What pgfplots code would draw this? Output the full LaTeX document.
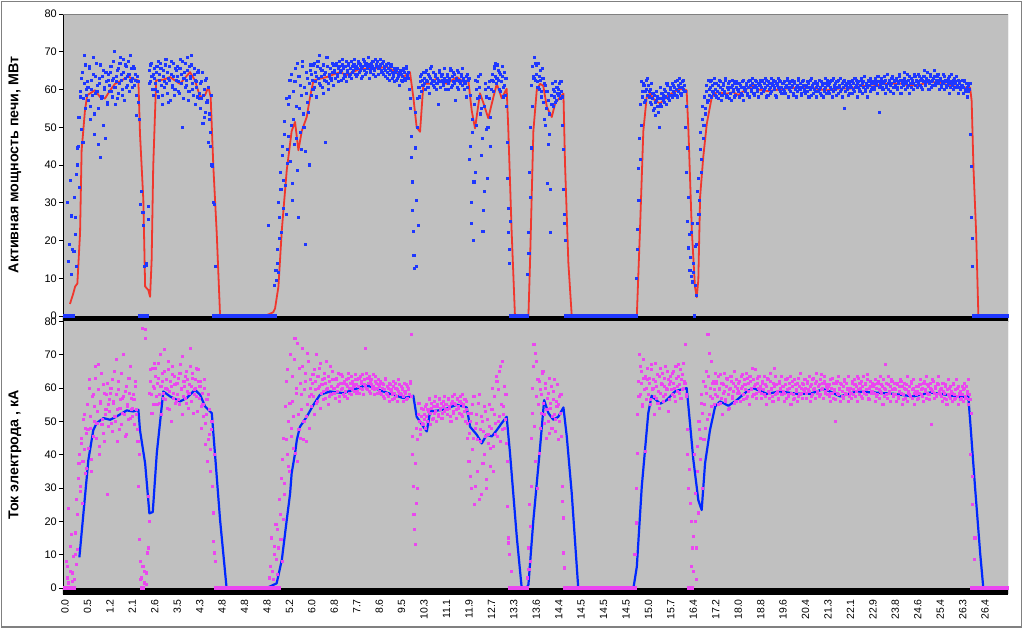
\documentclass[border=0pt]{standalone}
\usepackage{pgfplots}
\pgfplotsset{compat=1.18}
\usepackage{pgfplotstable}
\usepackage{fontspec}
\setmainfont{Liberation Sans}
\definecolor{plotbg}{RGB}{192,192,192}
\definecolor{scatblue}{RGB}{30,55,255}
\definecolor{linered}{RGB}{240,55,45}
\definecolor{scatmag}{RGB}{235,70,240}
\definecolor{lineblue}{RGB}{0,40,255}
\definecolor{framegray}{RGB}{128,128,128}

% top panel scatter, set A (samples 0,1,2,...; 20 samples per category label)
\pgfplotstableread[row sep=\\]{y\\
0\\0\\30\\0\\19\\36\\11\\0\\17\\26\\13\\40\\45\\34\\58\\63\\46\\69\\55\\60\\
62\\57\\66\\52\\60\\64\\48\\59\\67\\61\\55\\63\\42\\58\\65\\60\\47\\62\\56\\64\\
61\\66\\58\\63\\70\\56\\62\\65\\59\\67\\64\\60\\68\\57\\63\\66\\61\\64\\69\\62\\
63\\66\\61\\64\\53\\62\\52\\0\\33\\0\\24\\13\\0\\14\\29\\65\\62\\67\\60\\64\\
63\\60\\66\\58\\64\\67\\61\\56\\65\\62\\68\\59\\63\\66\\57\\64\\61\\67\\60\\65\\
66\\62\\59\\68\\64\\50\\63\\67\\61\\65\\57\\66\\63\\69\\60\\64\\56\\62\\58\\65\\
59\\55\\62\\51\\60\\54\\63\\57\\46\\52\\45\\40\\30\\0\\13\\0\\0\\0\\0\\0\\
0\\0\\0\\0\\0\\0\\0\\0\\0\\0\\0\\0\\0\\0\\0\\0\\0\\0\\0\\0\\
0\\0\\0\\0\\0\\0\\0\\0\\0\\0\\0\\0\\0\\0\\0\\0\\0\\0\\0\\0\\
0\\24\\0\\0\\0\\0\\0\\8\\12\\14\\30\\26\\38\\22\\45\\36\\48\\27\\44\\56\\
58\\41\\64\\35\\52\\62\\47\\67\\26\\55\\61\\44\\66\\50\\19\\59\\63\\54\\40\\65\\
64\\60\\67\\62\\58\\66\\63\\69\\61\\65\\59\\64\\46\\62\\66\\60\\64\\63\\67\\61\\
65\\63\\67\\64\\62\\66\\65\\68\\63\\64\\66\\62\\65\\67\\64\\63\\66\\65\\68\\64\\
66\\64\\67\\65\\63\\66\\68\\65\\64\\67\\66\\63\\65\\67\\66\\64\\65\\68\\66\\64\\
66\\68\\65\\67\\64\\66\\65\\63\\67\\64\\65\\66\\63\\64\\62\\65\\63\\64\\61\\65\\
64\\62\\65\\63\\66\\64\\63\\60\\55\\42\\28\\16\\54\\13\\50\\24\\58\\62\\64\\61\\
63\\60\\65\\62\\64\\59\\63\\66\\61\\62\\64\\60\\63\\56\\65\\62\\64\\61\\63\\60\\
62\\64\\60\\63\\65\\61\\62\\64\\57\\63\\65\\60\\62\\64\\61\\63\\60\\62\\58\\64\\
63\\45\\30\\52\\20\\56\\38\\60\\62\\58\\64\\55\\47\\28\\33\\60\\58\\50\\62\\45\\
60\\64\\62\\66\\67\\63\\65\\60\\64\\62\\66\\58\\61\\63\\46\\22\\14\\25\\0\\0\\
0\\0\\0\\0\\0\\0\\0\\0\\0\\0\\0\\0\\11\\22\\38\\50\\61\\66\\63\\67\\
64\\62\\67\\60\\65\\58\\63\\52\\61\\55\\35\\57\\48\\22\\56\\60\\58\\62\\57\\59\\
60\\59\\62\\58\\44\\27\\20\\0\\0\\0\\0\\0\\0\\0\\0\\0\\0\\0\\0\\0\\
0\\0\\0\\0\\0\\0\\0\\0\\0\\0\\0\\0\\0\\0\\0\\0\\0\\0\\0\\0\\
0\\0\\0\\0\\0\\0\\0\\0\\0\\0\\0\\0\\0\\0\\0\\0\\0\\0\\0\\0\\
0\\0\\0\\0\\0\\0\\0\\0\\0\\10\\23\\39\\47\\56\\62\\58\\61\\57\\60\\63\\
61\\58\\60\\56\\59\\55\\53\\57\\58\\54\\50\\56\\59\\57\\60\\58\\56\\61\\59\\57\\
60\\58\\61\\59\\62\\60\\58\\61\\63\\59\\62\\60\\61\\50\\38\\25\\18\\12\\22\\9\\
14\\0\\8\\19\\33\\27\\44\\38\\52\\47\\58\\55\\61\\57\\60\\62\\58\\61\\59\\63\\
60\\58\\61\\59\\62\\57\\60\\61\\59\\63\\58\\60\\62\\59\\57\\61\\60\\58\\62\\60\\
60\\58\\61\\59\\62\\57\\60\\61\\59\\62\\58\\61\\60\\63\\59\\61\\62\\60\\58\\61\\
61\\59\\62\\60\\63\\58\\61\\62\\60\\59\\63\\61\\60\\62\\58\\61\\63\\60\\62\\59\\
60\\62\\59\\61\\63\\58\\60\\62\\61\\59\\62\\60\\58\\61\\63\\60\\59\\62\\61\\60\\
59\\61\\62\\58\\60\\63\\61\\59\\60\\62\\58\\61\\60\\59\\62\\61\\58\\60\\63\\59\\
61\\59\\62\\60\\58\\63\\61\\60\\62\\59\\61\\63\\60\\58\\62\\55\\61\\60\\62\\59\\
61\\62\\59\\60\\63\\61\\58\\62\\60\\61\\63\\59\\62\\60\\61\\58\\62\\61\\63\\60\\
62\\60\\63\\61\\59\\62\\54\\61\\63\\60\\62\\59\\61\\64\\60\\62\\61\\63\\59\\62\\
61\\63\\60\\62\\64\\59\\62\\61\\63\\60\\62\\64\\61\\59\\63\\62\\60\\64\\61\\62\\
62\\64\\61\\63\\60\\62\\65\\61\\63\\62\\60\\64\\62\\61\\63\\65\\61\\62\\64\\60\\
63\\61\\62\\64\\60\\62\\61\\63\\59\\62\\64\\61\\60\\63\\62\\61\\59\\62\\60\\61\\
61\\59\\62\\60\\58\\61\\60\\48\\26\\13\\0\\0\\0\\0\\0\\0\\0\\0\\0\\0\\
0\\0\\0\\0\\0\\0\\0\\0\\0\\0\\0\\0\\0\\0\\0\\0\\0\\0\\0\\0\\
}\topscatterA

% top panel scatter, set B (samples 0.5,1.5,2.5,...)
\pgfplotstableread[row sep=\\]{y\\
0\\0\\0\\14.5\\0\\26.5\\17.5\\0\\31.5\\21.5\\37.5\\44.5\\52.5\\59.5\\49.5\\64.5\\57.5\\61.5\\66.5\\58.5\\
60.5\\65.5\\55.5\\62.5\\58.5\\68.5\\53.5\\63.5\\59.5\\45.5\\61.5\\66.5\\57.5\\63.5\\50.5\\60.5\\64.5\\56.5\\62.5\\59.5\\
64.5\\59.5\\62.5\\67.5\\60.5\\63.5\\57.5\\65.5\\61.5\\68.5\\62.5\\58.5\\64.5\\66.5\\60.5\\63.5\\67.5\\59.5\\62.5\\65.5\\
60.5\\65.5\\62.5\\58.5\\63.5\\56.5\\0\\29.5\\0\\27.5\\0\\0\\13.5\\0\\25.5\\61.5\\66.5\\63.5\\58.5\\65.5\\
61.5\\64.5\\59.5\\67.5\\62.5\\65.5\\58.5\\63.5\\60.5\\66.5\\61.5\\64.5\\56.5\\62.5\\67.5\\60.5\\63.5\\58.5\\65.5\\62.5\\
63.5\\59.5\\65.5\\61.5\\67.5\\57.5\\64.5\\60.5\\62.5\\68.5\\59.5\\63.5\\66.5\\61.5\\58.5\\65.5\\62.5\\60.5\\64.5\\57.5\\
61.5\\57.5\\64.5\\58.5\\52.5\\62.5\\56.5\\60.5\\53.5\\48.5\\58.5\\39.5\\0\\29.5\\0\\0\\0\\0\\0\\0\\
0\\0\\0\\0\\0\\0\\0\\0\\0\\0\\0\\0\\0\\0\\0\\0\\0\\0\\0\\0\\
0\\0\\0\\0\\0\\0\\0\\0\\0\\0\\0\\0\\0\\0\\0\\0\\0\\0\\0\\0\\
0\\0\\0\\0\\0\\0\\0\\0\\9.5\\17.5\\11.5\\20.5\\33.5\\42.5\\28.5\\51.5\\34.5\\57.5\\40.5\\47.5\\
62.5\\50.5\\30.5\\59.5\\45.5\\65.5\\55.5\\38.5\\63.5\\48.5\\58.5\\67.5\\53.5\\60.5\\43.5\\64.5\\56.5\\61.5\\66.5\\58.5\\
62.5\\66.5\\60.5\\64.5\\63.5\\67.5\\61.5\\65.5\\63.5\\60.5\\66.5\\62.5\\64.5\\68.5\\61.5\\63.5\\65.5\\62.5\\64.5\\66.5\\
64.5\\66.5\\63.5\\65.5\\67.5\\64.5\\62.5\\66.5\\65.5\\63.5\\67.5\\64.5\\66.5\\63.5\\65.5\\67.5\\64.5\\66.5\\65.5\\63.5\\
65.5\\67.5\\64.5\\66.5\\65.5\\63.5\\67.5\\66.5\\64.5\\65.5\\68.5\\66.5\\64.5\\65.5\\67.5\\65.5\\63.5\\66.5\\67.5\\65.5\\
65.5\\66.5\\64.5\\67.5\\65.5\\63.5\\66.5\\64.5\\65.5\\62.5\\66.5\\64.5\\63.5\\65.5\\64.5\\62.5\\65.5\\63.5\\64.5\\62.5\\
63.5\\65.5\\64.5\\62.5\\65.5\\63.5\\64.5\\57.5\\47.5\\35.5\\22.5\\12.5\\44.5\\30.5\\57.5\\60.5\\63.5\\59.5\\62.5\\64.5\\
61.5\\64.5\\62.5\\60.5\\63.5\\65.5\\61.5\\62.5\\64.5\\60.5\\63.5\\61.5\\62.5\\64.5\\60.5\\63.5\\62.5\\61.5\\65.5\\62.5\\
63.5\\61.5\\62.5\\65.5\\60.5\\63.5\\64.5\\61.5\\62.5\\60.5\\64.5\\62.5\\61.5\\63.5\\65.5\\62.5\\61.5\\63.5\\60.5\\62.5\\
41.5\\58.5\\24.5\\48.5\\35.5\\62.5\\50.5\\57.5\\63.5\\60.5\\53.5\\42.5\\22.5\\55.5\\61.5\\49.5\\36.5\\60.5\\57.5\\52.5\\
62.5\\59.5\\65.5\\63.5\\61.5\\66.5\\62.5\\64.5\\59.5\\63.5\\60.5\\64.5\\58.5\\55.5\\36.5\\28.5\\17.5\\0\\0\\0\\
0\\0\\0\\0\\0\\0\\0\\0\\0\\0\\0\\0\\0\\16.5\\31.5\\44.5\\55.5\\63.5\\68.5\\62.5\\
66.5\\60.5\\63.5\\62.5\\59.5\\65.5\\56.5\\61.5\\50.5\\59.5\\45.5\\53.5\\33.5\\58.5\\61.5\\55.5\\59.5\\56.5\\60.5\\58.5\\
61.5\\57.5\\59.5\\50.5\\33.5\\24.5\\0\\0\\0\\0\\0\\0\\0\\0\\0\\0\\0\\0\\0\\0\\
0\\0\\0\\0\\0\\0\\0\\0\\0\\0\\0\\0\\0\\0\\0\\0\\0\\0\\0\\0\\
0\\0\\0\\0\\0\\0\\0\\0\\0\\0\\0\\0\\0\\0\\0\\0\\0\\0\\0\\0\\
0\\0\\0\\0\\0\\0\\0\\0\\0\\0\\17.5\\30.5\\41.5\\50.5\\59.5\\61.5\\56.5\\59.5\\62.5\\58.5\\
59.5\\56.5\\61.5\\57.5\\54.5\\58.5\\56.5\\59.5\\55.5\\57.5\\60.5\\55.5\\57.5\\58.5\\56.5\\59.5\\61.5\\57.5\\58.5\\60.5\\
58.5\\61.5\\59.5\\60.5\\58.5\\62.5\\59.5\\60.5\\61.5\\58.5\\60.5\\62.5\\59.5\\55.5\\44.5\\31.5\\21.5\\15.5\\10.5\\24.5\\
11.5\\18.5\\5.5\\24.5\\36.5\\30.5\\48.5\\41.5\\55.5\\50.5\\53.5\\59.5\\56.5\\62.5\\58.5\\60.5\\62.5\\59.5\\61.5\\58.5\\
61.5\\59.5\\57.5\\62.5\\60.5\\58.5\\61.5\\59.5\\62.5\\58.5\\60.5\\61.5\\57.5\\60.5\\62.5\\59.5\\61.5\\58.5\\60.5\\61.5\\
59.5\\61.5\\60.5\\58.5\\62.5\\60.5\\59.5\\61.5\\58.5\\60.5\\62.5\\59.5\\61.5\\60.5\\58.5\\62.5\\60.5\\59.5\\61.5\\62.5\\
60.5\\62.5\\59.5\\61.5\\60.5\\62.5\\58.5\\61.5\\60.5\\59.5\\61.5\\62.5\\60.5\\58.5\\61.5\\60.5\\62.5\\59.5\\60.5\\61.5\\
61.5\\59.5\\60.5\\62.5\\60.5\\61.5\\59.5\\60.5\\62.5\\58.5\\61.5\\60.5\\59.5\\62.5\\60.5\\61.5\\58.5\\60.5\\62.5\\59.5\\
60.5\\59.5\\61.5\\60.5\\62.5\\58.5\\60.5\\61.5\\59.5\\60.5\\61.5\\59.5\\62.5\\60.5\\58.5\\61.5\\59.5\\60.5\\61.5\\62.5\\
59.5\\61.5\\60.5\\62.5\\59.5\\60.5\\61.5\\58.5\\60.5\\62.5\\60.5\\59.5\\61.5\\60.5\\62.5\\59.5\\61.5\\60.5\\58.5\\61.5\\
60.5\\62.5\\61.5\\59.5\\60.5\\62.5\\61.5\\60.5\\59.5\\62.5\\61.5\\60.5\\63.5\\59.5\\61.5\\60.5\\62.5\\59.5\\61.5\\60.5\\
61.5\\60.5\\62.5\\61.5\\63.5\\60.5\\61.5\\62.5\\60.5\\61.5\\63.5\\62.5\\60.5\\61.5\\62.5\\59.5\\61.5\\63.5\\60.5\\62.5\\
62.5\\60.5\\61.5\\63.5\\62.5\\60.5\\61.5\\62.5\\64.5\\61.5\\60.5\\62.5\\63.5\\61.5\\60.5\\62.5\\61.5\\63.5\\62.5\\60.5\\
61.5\\63.5\\62.5\\60.5\\62.5\\63.5\\61.5\\62.5\\64.5\\62.5\\61.5\\63.5\\60.5\\62.5\\63.5\\61.5\\62.5\\63.5\\61.5\\62.5\\
62.5\\60.5\\61.5\\63.5\\62.5\\60.5\\62.5\\61.5\\63.5\\60.5\\61.5\\62.5\\60.5\\61.5\\63.5\\60.5\\62.5\\61.5\\60.5\\62.5\\
60.5\\62.5\\59.5\\61.5\\60.5\\59.5\\61.5\\39.5\\20.5\\0\\0\\0\\0\\0\\0\\0\\0\\0\\0\\0\\
0\\0\\0\\0\\0\\0\\0\\0\\0\\0\\0\\0\\0\\0\\0\\0\\0\\0\\0\\0\\
}\topscatterB

% bottom panel scatter, set A
\pgfplotstableread[row sep=\\]{y\\
0\\8\\3\\24\\0\\5\\16\\2\\0\\10\\7\\22\\33\\40\\29\\45\\38\\52\\48\\36\\
55\\42\\60\\48\\35\\58\\50\\63\\45\\53\\67\\40\\56\\49\\61\\44\\52\\58\\28\\55\\
53\\60\\47\\56\\65\\50\\58\\44\\62\\54\\49\\57\\70\\52\\59\\46\\55\\63\\51\\57\\
54\\58\\49\\62\\52\\44\\40\\8\\3\\78\\0\\5\\75\\1\\12\\20\\62\\58\\66\\55\\
60\\66\\55\\63\\58\\70\\52\\62\\57\\65\\60\\54\\68\\59\\62\\50\\64\\57\\61\\56\\
58\\63\\55\\67\\60\\52\\62\\57\\65\\59\\54\\61\\72\\56\\63\\58\\60\\66\\53\\62\\
57\\62\\48\\55\\60\\43\\52\\38\\58\\46\\35\\50\\14\\40\\8\\0\\0\\0\\0\\0\\
0\\0\\0\\0\\0\\0\\0\\0\\0\\0\\0\\0\\0\\0\\0\\0\\0\\0\\0\\0\\
0\\0\\0\\0\\0\\0\\0\\0\\0\\0\\0\\0\\0\\0\\0\\0\\0\\0\\0\\0\\
0\\0\\3\\0\\15\\5\\0\\10\\19\\4\\12\\0\\22\\33\\8\\45\\28\\62\\40\\50\\
35\\70\\48\\56\\42\\75\\60\\38\\52\\66\\45\\58\\72\\50\\62\\44\\55\\68\\48\\60\\
58\\64\\52\\62\\70\\56\\60\\66\\54\\61\\59\\63\\57\\68\\60\\55\\62\\58\\65\\60\\
60\\57\\63\\59\\61\\56\\64\\60\\58\\62\\59\\61\\57\\63\\60\\58\\62\\61\\59\\64\\
61\\59\\63\\60\\62\\64\\58\\61\\72\\60\\63\\59\\62\\61\\60\\64\\58\\62\\60\\61\\
59\\62\\58\\60\\61\\57\\63\\58\\60\\56\\61\\59\\58\\62\\57\\60\\56\\59\\61\\58\\
58\\60\\56\\59\\61\\57\\60\\58\\62\\76\\40\\22\\13\\48\\30\\52\\50\\46\\54\\49\\
52\\48\\55\\50\\53\\57\\49\\54\\51\\56\\53\\50\\55\\52\\57\\54\\51\\56\\53\\55\\
55\\52\\57\\54\\50\\56\\53\\58\\55\\51\\57\\54\\56\\52\\58\\55\\53\\50\\56\\45\\
38\\50\\30\\55\\45\\25\\48\\52\\35\\58\\44\\28\\50\\47\\40\\53\\30\\46\\55\\42\\
48\\60\\35\\52\\46\\62\\50\\65\\44\\55\\68\\52\\48\\58\\38\\15\\10\\0\\5\\0\\
0\\0\\0\\0\\0\\0\\0\\0\\0\\0\\0\\0\\3\\12\\25\\8\\45\\60\\73\\38\\
68\\30\\55\\62\\48\\58\\65\\52\\60\\45\\57\\50\\63\\54\\48\\59\\52\\47\\56\\61\\
55\\50\\58\\26\\21\\6\\0\\0\\0\\0\\0\\0\\0\\0\\0\\0\\0\\0\\0\\0\\
0\\0\\0\\0\\0\\0\\0\\0\\0\\0\\0\\0\\0\\0\\0\\0\\0\\0\\0\\0\\
0\\0\\0\\0\\0\\0\\0\\0\\0\\0\\0\\0\\0\\0\\0\\0\\0\\0\\0\\0\\
0\\0\\0\\0\\0\\0\\0\\0\\10\\30\\52\\62\\70\\58\\65\\55\\63\\41\\60\\66\\
58\\63\\55\\67\\60\\52\\62\\57\\64\\59\\54\\66\\61\\56\\63\\58\\60\\65\\53\\61\\
62\\58\\65\\60\\56\\63\\59\\67\\61\\57\\64\\60\\62\\73\\58\\40\\30\\0\\20\\12\\
5\\40\\20\\12\\35\\50\\45\\58\\30\\62\\55\\48\\65\\76\\52\\60\\68\\57\\62\\55\\
58\\62\\55\\60\\64\\57\\52\\61\\59\\56\\63\\58\\54\\60\\62\\57\\59\\65\\56\\60\\
59\\62\\56\\60\\64\\58\\61\\57\\63\\59\\55\\62\\60\\66\\58\\61\\57\\63\\60\\59\\
60\\57\\62\\58\\61\\55\\63\\59\\57\\62\\60\\56\\66\\58\\61\\59\\57\\62\\60\\58\\
59\\56\\61\\57\\63\\58\\60\\55\\62\\58\\57\\61\\59\\56\\63\\58\\60\\57\\61\\59\\
60\\57\\62\\59\\56\\61\\58\\63\\60\\57\\62\\59\\61\\58\\64\\60\\57\\62\\59\\61\\
58\\61\\56\\60\\63\\57\\59\\50\\62\\58\\60\\56\\61\\59\\57\\62\\58\\60\\56\\59\\
60\\57\\62\\58\\61\\59\\56\\63\\58\\60\\62\\57\\59\\61\\58\\64\\57\\60\\62\\59\\
59\\61\\56\\60\\58\\62\\57\\59\\61\\55\\60\\67\\58\\57\\61\\59\\56\\62\\58\\60\\
58\\56\\61\\57\\59\\62\\55\\58\\60\\57\\61\\56\\59\\58\\62\\57\\60\\55\\59\\58\\
59\\57\\61\\58\\60\\56\\62\\59\\57\\61\\58\\60\\49\\59\\62\\57\\60\\58\\61\\59\\
58\\60\\56\\59\\57\\61\\55\\58\\60\\57\\59\\56\\61\\58\\57\\60\\55\\58\\59\\57\\
58\\56\\60\\57\\59\\55\\58\\40\\0\\25\\0\\15\\0\\0\\0\\0\\0\\0\\0\\0\\
0\\0\\0\\0\\0\\0\\0\\0\\0\\0\\0\\0\\0\\0\\0\\0\\0\\0\\0\\0\\
}\botscatterA

% bottom panel scatter, set B
\pgfplotstableread[row sep=\\]{y\\
0\\0\\6.5\\1.5\\12.5\\0\\4.5\\9.5\\2.5\\16.5\\26.5\\11.5\\37.5\\30.5\\43.5\\25.5\\50.5\\41.5\\34.5\\46.5\\
47.5\\62.5\\51.5\\38.5\\57.5\\45.5\\54.5\\66.5\\49.5\\59.5\\42.5\\55.5\\64.5\\50.5\\46.5\\58.5\\53.5\\61.5\\48.5\\56.5\\
58.5\\49.5\\62.5\\55.5\\51.5\\68.5\\53.5\\59.5\\47.5\\56.5\\64.5\\52.5\\57.5\\45.5\\60.5\\54.5\\50.5\\58.5\\66.5\\53.5\\
51.5\\56.5\\60.5\\53.5\\47.5\\30.5\\14.5\\2.5\\0\\6.5\\1.5\\77.5\\4.5\\10.5\\27.5\\58.5\\65.5\\52.5\\60.5\\67.5\\
63.5\\57.5\\61.5\\67.5\\55.5\\60.5\\64.5\\58.5\\71.5\\56.5\\62.5\\59.5\\65.5\\53.5\\60.5\\66.5\\58.5\\63.5\\55.5\\61.5\\
61.5\\56.5\\64.5\\59.5\\69.5\\57.5\\60.5\\63.5\\55.5\\62.5\\58.5\\66.5\\60.5\\64.5\\52.5\\59.5\\62.5\\57.5\\65.5\\60.5\\
60.5\\54.5\\58.5\\51.5\\62.5\\49.5\\56.5\\44.5\\53.5\\41.5\\47.5\\30.5\\22.5\\10.5\\0\\0\\0\\0\\0\\0\\
0\\0\\0\\0\\0\\0\\0\\0\\0\\0\\0\\0\\0\\0\\0\\0\\0\\0\\0\\0\\
0\\0\\0\\0\\0\\0\\0\\0\\0\\0\\0\\0\\0\\0\\0\\0\\0\\0\\0\\0\\
0\\0\\0\\6.5\\0\\2.5\\12.5\\0\\8.5\\17.5\\0\\26.5\\14.5\\38.5\\20.5\\31.5\\54.5\\44.5\\65.5\\36.5\\
55.5\\45.5\\63.5\\51.5\\68.5\\40.5\\58.5\\73.5\\47.5\\61.5\\53.5\\66.5\\44.5\\59.5\\64.5\\51.5\\70.5\\57.5\\62.5\\54.5\\
61.5\\57.5\\65.5\\59.5\\55.5\\63.5\\60.5\\67.5\\58.5\\62.5\\56.5\\64.5\\61.5\\59.5\\63.5\\57.5\\66.5\\60.5\\62.5\\58.5\\
58.5\\62.5\\60.5\\64.5\\57.5\\61.5\\59.5\\63.5\\61.5\\57.5\\62.5\\60.5\\64.5\\58.5\\61.5\\63.5\\59.5\\60.5\\62.5\\58.5\\
62.5\\60.5\\58.5\\63.5\\61.5\\59.5\\62.5\\60.5\\64.5\\59.5\\61.5\\63.5\\58.5\\62.5\\60.5\\59.5\\63.5\\61.5\\58.5\\62.5\\
60.5\\58.5\\61.5\\57.5\\59.5\\62.5\\58.5\\60.5\\57.5\\61.5\\59.5\\56.5\\60.5\\58.5\\61.5\\57.5\\59.5\\62.5\\58.5\\60.5\\
59.5\\57.5\\61.5\\58.5\\56.5\\60.5\\59.5\\61.5\\57.5\\45.5\\30.5\\17.5\\37.5\\25.5\\44.5\\55.5\\47.5\\51.5\\49.5\\53.5\\
50.5\\54.5\\51.5\\53.5\\56.5\\52.5\\55.5\\50.5\\54.5\\52.5\\57.5\\54.5\\51.5\\56.5\\53.5\\55.5\\52.5\\54.5\\57.5\\53.5\\
53.5\\56.5\\54.5\\51.5\\55.5\\57.5\\52.5\\55.5\\53.5\\56.5\\54.5\\52.5\\57.5\\55.5\\51.5\\54.5\\56.5\\53.5\\49.5\\52.5\\
46.5\\33.5\\52.5\\41.5\\57.5\\30.5\\49.5\\44.5\\55.5\\26.5\\47.5\\51.5\\37.5\\54.5\\45.5\\32.5\\50.5\\43.5\\48.5\\36.5\\
53.5\\42.5\\57.5\\49.5\\63.5\\45.5\\59.5\\51.5\\66.5\\47.5\\54.5\\60.5\\50.5\\43.5\\24.5\\13.5\\0\\0\\0\\0\\
0\\0\\0\\0\\0\\0\\0\\0\\0\\0\\0\\0\\0\\5.5\\18.5\\30.5\\52.5\\66.5\\48.5\\70.5\\
57.5\\62.5\\40.5\\59.5\\52.5\\64.5\\55.5\\49.5\\61.5\\53.5\\58.5\\46.5\\55.5\\60.5\\51.5\\56.5\\62.5\\50.5\\54.5\\44.5\\
57.5\\52.5\\45.5\\30.5\\10.5\\0\\0\\0\\0\\0\\0\\0\\0\\0\\0\\0\\0\\0\\0\\0\\
0\\0\\0\\0\\0\\0\\0\\0\\0\\0\\0\\0\\0\\0\\0\\0\\0\\0\\0\\0\\
0\\0\\0\\0\\0\\0\\0\\0\\0\\0\\0\\0\\0\\0\\0\\0\\0\\0\\0\\0\\
0\\0\\0\\0\\0\\0\\0\\0\\0\\19.5\\40.5\\57.5\\66.5\\61.5\\54.5\\68.5\\59.5\\63.5\\56.5\\62.5\\
61.5\\56.5\\65.5\\59.5\\62.5\\57.5\\67.5\\60.5\\55.5\\63.5\\58.5\\61.5\\64.5\\57.5\\60.5\\66.5\\59.5\\62.5\\56.5\\63.5\\
59.5\\64.5\\61.5\\57.5\\66.5\\60.5\\63.5\\58.5\\65.5\\62.5\\59.5\\67.5\\61.5\\57.5\\47.5\\0\\35.5\\25.5\\6.5\\0\\
15.5\\28.5\\2.5\\42.5\\22.5\\47.5\\38.5\\55.5\\52.5\\44.5\\60.5\\58.5\\50.5\\63.5\\70.5\\57.5\\54.5\\61.5\\59.5\\64.5\\
61.5\\57.5\\63.5\\59.5\\55.5\\61.5\\58.5\\64.5\\56.5\\60.5\\62.5\\53.5\\59.5\\63.5\\57.5\\61.5\\55.5\\60.5\\62.5\\58.5\\
61.5\\58.5\\63.5\\60.5\\56.5\\62.5\\59.5\\64.5\\57.5\\61.5\\63.5\\59.5\\57.5\\62.5\\60.5\\65.5\\58.5\\61.5\\63.5\\60.5\\
58.5\\61.5\\59.5\\63.5\\57.5\\60.5\\62.5\\58.5\\64.5\\59.5\\57.5\\61.5\\60.5\\63.5\\58.5\\56.5\\61.5\\59.5\\63.5\\60.5\\
60.5\\58.5\\62.5\\59.5\\57.5\\61.5\\63.5\\58.5\\60.5\\56.5\\62.5\\59.5\\61.5\\57.5\\60.5\\64.5\\58.5\\61.5\\59.5\\62.5\\
58.5\\61.5\\59.5\\63.5\\60.5\\57.5\\62.5\\59.5\\61.5\\64.5\\58.5\\60.5\\57.5\\62.5\\59.5\\61.5\\63.5\\58.5\\60.5\\59.5\\
60.5\\57.5\\62.5\\58.5\\61.5\\59.5\\56.5\\61.5\\58.5\\63.5\\59.5\\61.5\\57.5\\60.5\\62.5\\58.5\\61.5\\59.5\\63.5\\57.5\\
58.5\\61.5\\59.5\\62.5\\57.5\\60.5\\63.5\\59.5\\61.5\\57.5\\60.5\\63.5\\58.5\\61.5\\59.5\\62.5\\56.5\\60.5\\58.5\\61.5\\
60.5\\58.5\\62.5\\57.5\\61.5\\59.5\\63.5\\58.5\\60.5\\62.5\\57.5\\59.5\\61.5\\63.5\\58.5\\60.5\\62.5\\59.5\\57.5\\61.5\\
59.5\\61.5\\57.5\\60.5\\62.5\\58.5\\60.5\\56.5\\61.5\\59.5\\63.5\\58.5\\60.5\\57.5\\61.5\\59.5\\62.5\\58.5\\60.5\\56.5\\
60.5\\58.5\\62.5\\59.5\\57.5\\61.5\\59.5\\63.5\\58.5\\60.5\\56.5\\61.5\\59.5\\62.5\\58.5\\60.5\\57.5\\61.5\\63.5\\58.5\\
59.5\\57.5\\61.5\\58.5\\60.5\\56.5\\59.5\\62.5\\57.5\\60.5\\58.5\\61.5\\56.5\\59.5\\62.5\\57.5\\60.5\\58.5\\56.5\\60.5\\
59.5\\61.5\\57.5\\60.5\\58.5\\62.5\\56.5\\52.5\\33.5\\0\\8.5\\0\\0\\0\\0\\0\\0\\0\\0\\0\\
0\\0\\0\\0\\0\\0\\0\\0\\0\\0\\0\\0\\0\\0\\0\\0\\0\\0\\0\\0\\
}\botscatterB

\pgfplotsset{
  panel/.style={
    scale only axis, width=945bp,
    xmin=-1.8, xmax=840.4,
    axis lines=left, axis line style={-, line width=0.8bp, black},
    axis background/.style={fill=plotbg},
    ytick={0,10,...,80},
    tick align=outside, major tick length=4bp,
    ytick style={line width=0.8bp, black},
    xtick style={draw=none},
    yticklabel style={font=\fontsize{11}{12}\selectfont, inner sep=2bp},
    /pgf/number format/assume math mode=true,
    ylabel style={font=\bfseries\fontsize{14.3}{16}\selectfont, anchor=center},
  },
  scat/.style={only marks, mark=square*, mark size=1.05bp, mark options={line width=0pt}},
}

\begin{document}
\begin{tikzpicture}
\path[use as bounding box, fill=white] (0,0) rectangle (1024bp,630bp);
\draw[color=framegray, line width=1.5bp] (1.5bp,3bp) rectangle (1021.5bp,628.5bp);

% ---------------- top panel: active power ----------------
\begin{axis}[panel, at={(63bp,308bp)}, anchor=south west, height=308bp,
  ymin=-1.59, ymax=80, xtick=\empty,
  ylabel={Активная мощность печи, МВт},
  ylabel style={at={(axis description cs:-0.0508,0.51)}}]
\addplot[fill=black, draw=none, forget plot] coordinates {(-10,-10) (850,-10) (850,0) (-10,0)} -- cycle;
\addplot[scat, color=scatblue] table[x expr=\coordindex, y=y] {\topscatterA};
\addplot[scat, color=scatblue] table[x expr=\coordindex+0.5, y=y] {\topscatterB};
\addplot[linered, line width=1.8bp, line join=round] coordinates {
(4.4,3.2)(7.4,6)(9,7.8)(11,8.6)(13.4,22)(14.8,43.9)(17.8,54.5)(19.8,58.5)(26.8,59.8)(31.2,58)(35.6,57.6)(40.2,59.8)(44.6,61.5)(50.6,62.4)(56.4,63.5)(59.4,62.9)(65.4,62.4)(66.8,48.4)(69.8,30.7)(71.4,7.8)(74.2,6.9)(75.8,5.1)(77.2,14.8)(78.6,39.5)(81.2,62.4)(87.6,62.6)(93.6,63.3)(102.4,61.5)(111.4,64.6)(115.8,62.4)(120.4,58)(124.8,58.5)(127.8,60.7)(129.8,58)(132.2,39.5)(135.2,22)(138.2,0)(178.2,0)(185.6,1)(187.2,2)(190.2,7.8)(193.2,22.7)(197.6,38.6)(202,49)(205,51.4)(208,43.9)(211,49)(215.4,52.7)(218.4,58)(221.4,62.4)(233.2,63.3)(245,64.6)(251,63.8)(263,65.5)(274.8,65.5)(286.8,66)(292.6,65)(301.6,63.3)(307.4,64.6)(310.4,58)(313.4,50)(316.4,48.8)(319.4,61.5)(325.4,61.5)(331.2,62.9)(340.2,61.5)(349.2,63.3)(355,62)(359.4,62.5)(362.4,54.5)(365.4,49.7)(369.8,59)(372.8,56.5)(377.2,52.4)(381.8,58)(384.8,61.5)(389.2,57.7)(393.6,60.2)(395,50)(398,22.7)(401,0)(413,0)(414.4,14)(417.4,49)(420.4,59.8)(423.4,61.5)(426.2,61)(429.4,55.4)(433.8,52.7)(436.8,56.3)(441.2,58)(444.2,58.9)(445.6,40.4)(448.6,14)(451.6,0)(509.6,0)(512.4,22.7)(515.4,49)(518.4,58)(521.4,58.9)(525.8,57)(530.4,56.3)(536.2,58)(542.2,59.3)(549.6,60.2)(554,59.8)(555.6,49)(558.6,22.7)(561.4,7.8)(563,5)(564.4,9.5)(566,31.6)(568.8,42.1)(572,51)(576.4,58)(580.8,59.3)(589.8,58.9)(595.6,59.3)(600,58.5)(607.6,60.2)(613.4,61)(618,60)(626,59.6)(637.2,60)(644,60.3)(655,60.5)(664,60.6)(673,60)(680,59.8)(690.8,60.3)(699.6,60.2)(710,61)(720,60.8)(729.4,61.5)(744,61.6)(753.2,61)(762,61.3)(771,62)(780,61.8)(788.8,61)(796,60.7)(800.6,60.5)(806.6,60.5)(808,57)(809.6,39.5)(812,22)(814,0)(840.4,0)
};
\draw[framegray, line width=0.8bp] (rel axis cs:0,1) -- (rel axis cs:1,1) -- (rel axis cs:1,0);
\end{axis}

% ---------------- bottom panel: electrode current ----------------
\begin{axis}[panel, at={(63bp,36bp)}, anchor=south west, height=272.5bp,
  ymin=-1.8, ymax=80,
  xtick={0,20,...,820},
  xticklabels={0.0,0.5,1.2,2.1,2.6,3.5,4.3,4.8,4.8,4.8,5.2,6.0,6.8,7.7,8.6,9.5,10.3,11.1,11.9,12.7,13.3,13.6,14.4,14.5,14.5,14.5,15.0,15.7,16.4,17.2,18.0,18.8,19.6,20.4,21.3,22.1,22.9,23.8,24.6,25.4,26.3,26.4},
  xticklabel style={rotate=90, anchor=east, font=\fontsize{10.5}{12}\selectfont, inner sep=1bp},
  ylabel={Ток электрода , кА},
  ylabel style={at={(axis description cs:-0.0508,0.51)}}]
\addplot[fill=black, draw=none, forget plot] coordinates {(-10,-10) (850,-10) (850,0) (-10,0)} -- cycle;
\addplot[scat, color=scatmag] table[x expr=\coordindex, y=y] {\botscatterA};
\addplot[scat, color=scatmag] table[x expr=\coordindex+0.5, y=y] {\botscatterB};
\addplot[lineblue, line width=2.2bp, line join=round] coordinates {
(12.8,9.2)(16.4,22.4)(20.8,38.4)(25.2,47.4)(28.2,49.5)(34.2,51)(40.2,50.5)(46,51.5)(55,53.3)(60.8,53)(65.4,53.5)(66.8,47.4)(71.4,37.4)(75.2,22.4)(78.2,22.8)(81.8,40.5)(87.6,59)(93.6,57.5)(102.4,56)(108.4,57)(115.8,59.5)(120.4,58)(124.8,54.5)(130.8,52.5)(133.6,40.5)(138.2,20.4)(144,0)(179.8,0)(188.6,1.4)(193.2,8.4)(197.6,20.4)(200.6,28.4)(202,34.5)(205,40.4)(206.6,44.5)(209.4,48.4)(215.4,51.4)(221.4,55)(227.2,58)(236.2,59)(248,58.5)(257,59.5)(267.4,60.8)(271.8,60.5)(283.6,59)(301.6,57)(310.4,57.7)(313.4,51.4)(319.4,48.4)(322.4,47)(325.4,53)(337.2,53.5)(349.2,55)(358,54.2)(361,48.4)(367,46)(371.4,43.4)(375.8,46)(380.4,45.5)(384.8,47.4)(389.2,49.5)(393.6,51.4)(396.6,40.4)(402.6,15.4)(407,0)(411.4,0)(413,1)(417.4,20.4)(418.8,25.4)(423.4,42.4)(427,56.4)(430.8,52.5)(435.2,50.5)(439.6,51.4)(444.2,54.2)(447.2,45.4)(451.6,28.4)(457.4,0)(506.6,0)(509.6,6.4)(514,30.4)(519.8,52.5)(522.8,57.7)(530.4,55.3)(536.2,56.4)(543.6,59)(548.2,59.5)(554,60)(555.6,54.5)(560,38.4)(564.4,26.4)(567.4,23.4)(570.4,37.4)(574.8,47.4)(579.4,54.5)(583.8,56)(591.2,54.7)(598.6,56.4)(607.6,59)(613.4,60)(625.4,58.3)(637.2,59)(652.2,58.3)(664,58.3)(675.8,59.7)(681.8,59)(690.8,57.5)(705.6,59)(720.4,58.7)(738.2,58.3)(756,57.5)(771,58.7)(785.8,58)(797.6,57.3)(805,57.5)(806.6,50.5)(811,30.4)(815.6,10.4)(818.4,0)(840.4,0)
};
\draw[framegray, line width=0.8bp] (rel axis cs:1,0) -- (rel axis cs:1,1);
\end{axis}
\end{tikzpicture}
\end{document}
